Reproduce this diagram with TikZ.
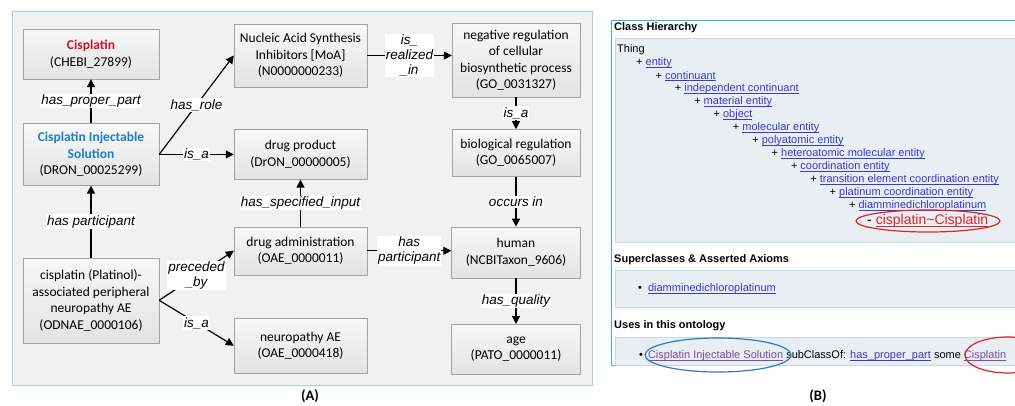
\documentclass[tikz,border=0pt]{standalone}
\usepackage{xcolor}
\usepackage{fontspec}
\setmainfont{Carlito}
\newfontfamily\arialfont{Liberation Sans}
\usepackage{tikz}
\usetikzlibrary{arrows.meta,positioning}

\definecolor{cisred}{HTML}{C3162F}
\definecolor{solblue}{HTML}{1C7FC6}
\definecolor{panelgray}{HTML}{F1F1F1}
\definecolor{panelline}{HTML}{A9CFE8}
\definecolor{boxline}{HTML}{A3A3A3}
\definecolor{chblue}{HTML}{3AAEE6}
\definecolor{chfill}{HTML}{E8EEF1}
\definecolor{chline}{HTML}{C2DAEA}
\definecolor{linkblue}{HTML}{3A3ACD}
\definecolor{visit}{HTML}{7D4BA6}
\definecolor{ringred}{HTML}{D8262B}
\definecolor{ringblue}{HTML}{2B7DC0}

% underlined link text
\newcommand\ulink[1]{\setbox0=\hbox{#1}\rlap{\rule[-1.7pt]{\wd0}{0.6pt}}\box0}

\begin{document}
\begin{tikzpicture}[
    x=1pt, y=-1pt,
    box/.style={rectangle, draw=boxline, top color=white!97!black, bottom color=white!89!black, align=center, inner sep=3pt, minimum width=133pt, font=\fontsize{13.5}{16.5}\selectfont},
    lab/.style={fill=white, inner sep=1pt, align=center, font=\arialfont\itshape\fontsize{13.5}{15}\selectfont},
    arrow/.style={-{Triangle[length=8pt,width=8pt]}, line width=1.2pt},
    head/.style={anchor=west, inner sep=1pt, font=\arialfont\bfseries\fontsize{11}{13}\selectfont},
    item/.style={anchor=west, inner sep=1pt, font=\arialfont\fontsize{11}{13}\selectfont},
    tag/.style={font=\bfseries\fontsize{14.5}{16}\selectfont}
]
    \useasboundingbox (0,0) rectangle (1015,405);

    % Panel (A)
    \draw[draw=panelline, fill=panelgray, line width=1pt] (12,11) rectangle (592,385);

    % Left column
    \node[box, minimum width=136pt, minimum height=50pt] (cis) at (91,54) {\textcolor{cisred}{\bfseries Cisplatin}\\(CHEBI\_27899)};
    \node[box, minimum width=136pt, minimum height=62pt, below=44pt of cis] (sol) {\textcolor{solblue}{\bfseries Cisplatin Injectable}\\\textcolor{solblue}{\bfseries Solution}\\(DRON\_00025299)};
    \node[box, minimum width=136pt, minimum height=85pt, below=72pt of sol] (platinol) {cisplatin (Platinol)-\\associated peripheral\\neuropathy AE\\(ODNAE\_0000106)};

    % Middle column
    \node[box, minimum height=63pt] (moa) at (300.5,55.5) {Nucleic Acid Synthesis\\Inhibitors [MoA]\\(N0000000233)};
    \node[box, minimum height=50pt, below=42pt of moa] (drugprod) {drug product\\(DrON\_00000005)};
    \node[box, minimum height=48pt, below=47pt of drugprod] (admin) {drug administration\\(OAE\_0000011)};
    \node[box, minimum height=55pt, below=43pt of admin] (neuro) {neuropathy AE\\(OAE\_0000418)};

    % Right column
    \node[box, minimum width=128pt, minimum height=74pt] (negreg) at (516,60) {negative regulation\\of cellular\\biosynthetic process\\(GO\_0031327)};
    \node[box, minimum width=128pt, minimum height=47pt, below=32pt of negreg] (bioreg) {biological regulation\\(GO\_0065007)};
    \node[box, minimum width=129pt, minimum height=51pt, below=50pt of bioreg] (human) {human\\(NCBITaxon\_9606)};
    \node[box, minimum width=129pt, minimum height=50pt, below=46pt of human] (age) {age\\(PATO\_0000011)};

    % Relations
    \draw[arrow] (sol) -- node[lab] {has\_proper\_part} (cis);
    \draw[arrow] (sol.east) -- node[lab] {has\_role} (moa.west);
    \draw[arrow] (sol.east) -- node[lab] {is\_a} (sol.east -| drugprod.west);
    \draw[arrow] (moa.east) -- node[lab] {is\_\\realized\\\_in} (moa.east -| negreg.west);
    \draw[arrow] (negreg) -- node[lab] {is\_a} (bioreg);
    \draw[arrow] (bioreg) -- node[lab] {occurs in} (human);
    \draw[arrow] (admin) -- node[lab] {has\_specified\_input} (drugprod);
    \draw[arrow] (admin) -- node[lab] {has\\participant} (admin -| human.west);
    \draw[arrow] (human) -- node[lab] {has\_quality} (age);
    \draw[arrow] (platinol) -- node[lab] {has participant} (sol);
    \draw[arrow] (platinol.east) -- node[lab] {preceded\\\_by} (admin.west);
    \draw[arrow] (platinol.east) -- node[lab] {is\_a} (neuro.west);

    % Panel (B)
    \begin{scope}
        \clip (0,0) rectangle (1015,405);
        \draw[draw=chblue, fill=white, line width=1pt] (611,20) rectangle (1040,365);

        % Class hierarchy
        \node[head] (chhead) at (613,28) {Class Hierarchy};
        \draw[draw=chline, fill=chfill] (615,38) rectangle (1040,242);
        \node[item] (thing) at (616,50) {Thing};
        \foreach \cls [count=\i] in {entity, continuant, independent continuant, material entity, object, molecular entity, polyatomic entity, heteroatomic molecular entity, coordination entity, transition element coordination entity, platinum coordination entity, diamminedichloroplatinum}
            \node[item] (lvl\i) at ({635+19.35*(\i-1)}, {50+13*\i}) {+ \textcolor{linkblue}{\ulink{\cls}}};
        \node[item, font=\arialfont\fontsize{14}{16}\selectfont] (leaf) at (866,221) {- \textcolor{ringred}{\ulink{cisplatin\textasciitilde Cisplatin}}};
        \draw[ringred, line width=1.2pt] (928,221) ellipse [x radius=72pt, y radius=11pt];

        % Superclasses
        \node[head] (suphead) at (613,260) {Superclasses \& Asserted Axioms};
        \draw[draw=chline, fill=chfill] (615,270) rectangle (1040,307);
        \node[item] (supitem) at (637,289) {\textbullet\hspace{6pt}\textcolor{linkblue}{\ulink{diamminedichloroplatinum}}};

        % Uses
        \node[head] (usehead) at (613,326) {Uses in this ontology};
        \draw[draw=chline, fill=chfill] (615,337) rectangle (1040,365);
        \node[item] (useitem) at (638,356) {\textbullet\hspace{5pt}\textcolor{visit}{\ulink{Cisplatin Injectable Solution}} subClassOf: \textcolor{linkblue}{\ulink{has\_proper\_part}} some \textcolor{visit}{\ulink{Cisplatin}}};
        \draw[ringblue, line width=1.2pt] (718,355) ellipse [x radius=73pt, y radius=17pt];
        \draw[ringred, line width=1.2pt] (1008,355) ellipse [x radius=43pt, y radius=18pt];
    \end{scope}

    % Captions
    \node[tag] (capA) at (310,396) {(A)};
    \node[tag] (capB) at (818,396) {(B)};
\end{tikzpicture}
\end{document}
